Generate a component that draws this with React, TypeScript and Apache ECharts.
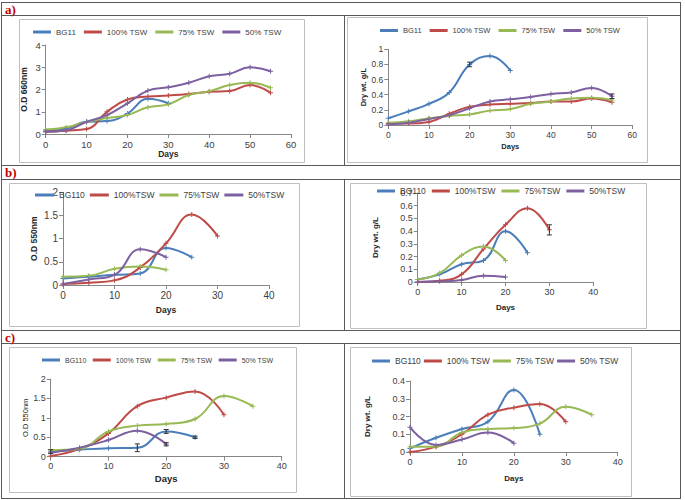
import React, { useEffect, useRef } from "react";
import * as echarts from "echarts";

// ---------------- DATA ----------------
const DAYS_A = [0, 5, 10, 15, 20, 25, 30, 35, 40, 45, 50, 55];
const DAYS_BC = [0, 5, 10, 15, 20, 25, 30, 35];

// a) left: O.D 660nm
const A_OD_BG11 = [0.15, 0.25, 0.55, 0.58, 0.92, 1.58, 1.38];
const A_OD_100 = [0.1, 0.15, 0.22, 1.0, 1.55, 1.68, 1.73, 1.8, 1.9, 1.93, 2.2, 1.85];
const A_OD_75 = [0.2, 0.3, 0.55, 0.72, 0.85, 1.2, 1.33, 1.75, 1.92, 2.2, 2.3, 2.08];
const A_OD_50 = [0.1, 0.17, 0.55, 0.85, 1.38, 1.95, 2.1, 2.3, 2.6, 2.71, 3.0, 2.82];

// a) right: Dry wt g/L
const A_DW_BG11 = [0.09, 0.18, 0.28, 0.43, 0.8, 0.91, 0.72];
const A_DW_100 = [0.02, 0.02, 0.04, 0.15, 0.24, 0.27, 0.28, 0.29, 0.31, 0.31, 0.35, 0.3];
const A_DW_75 = [0.03, 0.05, 0.09, 0.12, 0.14, 0.19, 0.21, 0.28, 0.31, 0.35, 0.36, 0.33];
const A_DW_50 = [0.01, 0.03, 0.08, 0.13, 0.22, 0.31, 0.34, 0.37, 0.41, 0.43, 0.49, 0.38];

// b) left: O.D 550nm
const B_OD_BG110 = [0.14, 0.18, 0.22, 0.25, 0.8, 0.6];
const B_OD_100 = [0.02, 0.05, 0.1, 0.38, 0.9, 1.52, 1.06];
const B_OD_75 = [0.18, 0.2, 0.35, 0.4, 0.33];
const B_OD_50 = [0.02, 0.12, 0.22, 0.77, 0.6];

// b) right: Dry wt g/L
const B_DW_BG110 = [0.02, 0.06, 0.14, 0.17, 0.4, 0.23];
const B_DW_100 = [0.0, 0.01, 0.06, 0.26, 0.45, 0.58, 0.41];
const B_DW_75 = [0.02, 0.07, 0.21, 0.28, 0.17];
const B_DW_50 = [0.0, 0.005, 0.015, 0.05, 0.04];

// c) left: O.D 550nm
const C_OD_BG110 = [0.13, 0.18, 0.22, 0.23, 0.65, 0.5];
const C_OD_100 = [0.02, 0.2, 0.6, 1.3, 1.52, 1.68, 1.08];
const C_OD_75 = [0.17, 0.2, 0.65, 0.8, 0.84, 0.97, 1.56, 1.3];
const C_OD_50 = [0.1, 0.23, 0.43, 0.67, 0.32];

// c) right: Dry wt g/L
const C_DW_BG110 = [0.02, 0.08, 0.13, 0.17, 0.35, 0.1];
const C_DW_100 = [0.0, 0.03, 0.1, 0.21, 0.25, 0.27, 0.17];
const C_DW_75 = [0.03, 0.03, 0.11, 0.13, 0.135, 0.16, 0.255, 0.21];
const C_DW_50 = [0.14, 0.04, 0.07, 0.11, 0.05];

// error bars: [day, value, err]
const ERR_A_DW = [[20, 0.8, 0.03], [55, 0.38, 0.03]];
const ERR_B_DW = [[30, 0.41, 0.04]];
const ERR_C_OD = [[0, 0.13, 0.05], [15, 0.23, 0.1], [20, 0.65, 0.05], [25, 0.5, 0.03], [20, 0.32, 0.04]];

const NAMES_A = ["BG11", "100% TSW", "75% TSW", "50% TSW"];
const NAMES_B = ["BG110", "100%TSW", "75%TSW", "50%TSW"];
const NAMES_C = ["BG110", "100% TSW", "75% TSW", "50% TSW"];

const COLORS = ["#4a7ebb", "#be4b48", "#98b954", "#7d60a0"];
const FONT = "Liberation Sans, Arial, sans-serif";

export default function App() {
  const ref = useRef<HTMLDivElement>(null);

  useEffect(() => {
    if (!ref.current) return;
    const chart = echarts.init(ref.current, undefined, { renderer: "svg" });

    const panels = [
      { grid: { left: 45.7, top: 45, width: 245.3, height: 89 }, xmax: 60, ymax: 4, yint: 1, yname: "O.D 660nm", ynameGap: 17, xnameGap: 15, tick: 9.5, nameSize: 8.5, yBold: true, names: NAMES_A,
        data: [A_OD_BG11, A_OD_100, A_OD_75, A_OD_50], days: DAYS_A, legend: { left: 33, top: 28, fs: 8, gap: 8, iw: 18 }, err: null as any },
      { grid: { left: 388.3, top: 49.3, width: 244, height: 75.7 }, xmax: 60, ymax: 1, yint: 0.2, yname: "Dry wt. g/L", ynameGap: 21, xnameGap: 17, tick: 8.5, nameSize: 7.5, yBold: true, names: NAMES_A,
        data: [A_DW_BG11, A_DW_100, A_DW_75, A_DW_50], days: DAYS_A, legend: { left: 380, top: 26.5, fs: 7.5, gap: 8, iw: 18 }, err: ERR_A_DW },
      { grid: { left: 63, top: 192.4, width: 206, height: 92.6 }, xmax: 40, ymax: 2, yint: 0.5, yname: "O.D 550nm", ynameGap: 25, xnameGap: 20, tick: 10, nameSize: 8.5, yBold: true, names: NAMES_B,
        data: [B_OD_BG110, B_OD_100, B_OD_75, B_OD_50], days: DAYS_BC, legend: { left: 35, top: 190.5, fs: 8.5, gap: 5, iw: 19 }, err: null },
      { grid: { left: 417.7, top: 193, width: 175.6, height: 89 }, xmax: 40, ymax: 0.7, yint: 0.1, yname: "Dry wt. g/L", ynameGap: 38, xnameGap: 21, tick: 9, nameSize: 8, yBold: true, names: NAMES_B,
        data: [B_DW_BG110, B_DW_100, B_DW_75, B_DW_50], days: DAYS_BC, legend: { left: 377, top: 186.5, fs: 8.5, gap: 6, iw: 18 }, err: ERR_B_DW },
      { grid: { left: 50.7, top: 379, width: 231, height: 77.7 }, xmax: 40, ymax: 2, yint: 0.5, yname: "O.D 550nm", ynameGap: 20, xnameGap: 17, tick: 9, nameSize: 7.5, yBold: false, names: NAMES_C,
        data: [C_OD_BG110, C_OD_100, C_OD_75, C_OD_50], days: DAYS_BC, legend: { left: 42, top: 356.5, fs: 7, gap: 6.5, iw: 18 }, err: ERR_C_OD },
      { grid: { left: 410, top: 381, width: 207.7, height: 71 }, xmax: 40, ymax: 0.4, yint: 0.1, yname: "Dry wt. g/L", ynameGap: 39, xnameGap: 22, tick: 9, nameSize: 8, yBold: true, names: NAMES_C,
        data: [C_DW_BG110, C_DW_100, C_DW_75, C_DW_50], days: DAYS_BC, legend: { left: 372, top: 356.5, fs: 8.5, gap: 3, iw: 18 }, err: null },
    ];
    const xNameSizes = [8.5, 7.5, 8.5, 8, 9.5, 8];
    const errColors = [null, "#333333", null, "#333333", "#333333", null];

    const grids: any[] = [];
    const xAxes: any[] = [];
    const yAxes: any[] = [];
    const legends: any[] = [];
    const series: any[] = [];
    const axisLine = { show: true, lineStyle: { color: "#868686", width: 1 } };
    const axisTick = { show: true, length: 4, lineStyle: { color: "#868686" } };

    panels.forEach((p, i) => {
      grids.push({ ...p.grid, containLabel: false });
      xAxes.push({
        type: "value", gridIndex: i, min: 0, max: p.xmax, interval: 10,
        name: "Days", nameLocation: "middle", nameGap: p.xnameGap,
        nameTextStyle: { fontFamily: FONT, fontWeight: "bold", fontSize: xNameSizes[i], color: "#262626" },
        axisLine, axisTick, splitLine: { show: false },
        axisLabel: { fontFamily: FONT, fontSize: p.tick, color: "#404040", margin: 5 },
      });
      yAxes.push({
        type: "value", gridIndex: i, min: 0, max: p.ymax, interval: p.yint,
        name: p.yname, nameLocation: "middle", nameGap: p.ynameGap,
        nameTextStyle: { fontFamily: FONT, fontWeight: p.yBold ? "bold" : "normal", fontSize: p.nameSize, color: "#262626" },
        axisLine, axisTick, splitLine: { show: false },
        axisLabel: { fontFamily: FONT, fontSize: p.tick, color: "#404040", margin: 5 },
      });
      legends.push({
        show: true, left: p.legend.left, top: p.legend.top, padding: 0,
        itemWidth: p.legend.iw, itemHeight: 3, itemGap: p.legend.gap, icon: "rect",
        selectedMode: false, data: p.names,
        textStyle: { fontFamily: FONT, fontSize: p.legend.fs, color: "#404040" },
      });
      p.data.forEach((vals, k) => {
        series.push({
          type: "line", name: p.names[k], xAxisIndex: i, yAxisIndex: i,
          data: vals.map((v, j) => [p.days[j], v]),
          smooth: 0.45, symbol: "path://M4,0L6,0L6,10L4,10Z M0,4L10,4L10,6L0,6Z", symbolSize: 5,
          showSymbol: true,
          lineStyle: { color: COLORS[k], width: 2 },
          itemStyle: { color: COLORS[k] },
          z: 3,
        });
      });
      if (p.err) {
        series.push({
          type: "custom", xAxisIndex: i, yAxisIndex: i, z: 5,
          data: p.err,
          renderItem: (params: any, api: any) => {
            const x = api.value(0), y = api.value(1), e = api.value(2);
            const t = api.coord([x, y + e]);
            const b = api.coord([x, y - e]);
            const w = 2.5;
            const st = { stroke: errColors[i], lineWidth: 1 };
            return {
              type: "group",
              children: [
                { type: "line", shape: { x1: t[0], y1: t[1], x2: b[0], y2: b[1] }, style: st },
                { type: "line", shape: { x1: t[0] - w, y1: t[1], x2: t[0] + w, y2: t[1] }, style: st },
                { type: "line", shape: { x1: b[0] - w, y1: b[1], x2: b[0] + w, y2: b[1] }, style: st },
              ],
            };
          },
        });
      }
    });

    const border = "#595959";
    const frame = "#bfbfbf";
    const hl = (y: number, x1 = 1, x2 = 681) => ({ type: "line", shape: { x1, y1: y, x2, y2: y }, style: { stroke: border, lineWidth: 1 }, silent: true });
    const vl = (x: number, y1: number, y2: number) => ({ type: "line", shape: { x1: x, y1, x2: x, y2 }, style: { stroke: border, lineWidth: 1 }, silent: true });
    const fr = (x: number, y: number, w: number, h: number) => ({ type: "rect", shape: { x, y, width: w, height: h }, style: { fill: "none", stroke: frame, lineWidth: 1 }, silent: true });
    const lab = (t: string, y: number) => ({ type: "text", x: 5, y, style: { text: t, fill: "#c00000", font: "bold 13px 'Liberation Serif', 'Times New Roman', serif", textVerticalAlign: "middle" }, silent: true });

    const graphic = [
      hl(2.5), hl(15.5), hl(165.5), hl(179.5), hl(330.5), hl(343.5), hl(498.5),
      vl(1.5, 2.5, 498.5), vl(680.5, 2.5, 498.5),
      vl(344.5, 15.5, 165.5), vl(344.5, 179.5, 330.5), vl(344.5, 343.5, 498.5),
      fr(19.5, 19.5, 285, 143), fr(347.5, 17.5, 300, 145),
      fr(9.5, 183.5, 290, 143), fr(350.5, 183.5, 296, 145),
      fr(9.5, 347.5, 287, 145), fr(350.5, 347.5, 281, 149),
      lab("a)", 9), lab("b)", 172.5), lab("c)", 337),
    ];

    chart.setOption({
      animation: false,
      backgroundColor: "#ffffff",
      grid: grids,
      xAxis: xAxes,
      yAxis: yAxes,
      legend: legends,
      series,
      graphic,
    });
    return () => chart.dispose();
  }, []);

  return <div ref={ref} style={{ position: "absolute", left: 0, top: 0, width: 685, height: 500, background: "#fff" }} />;
}
